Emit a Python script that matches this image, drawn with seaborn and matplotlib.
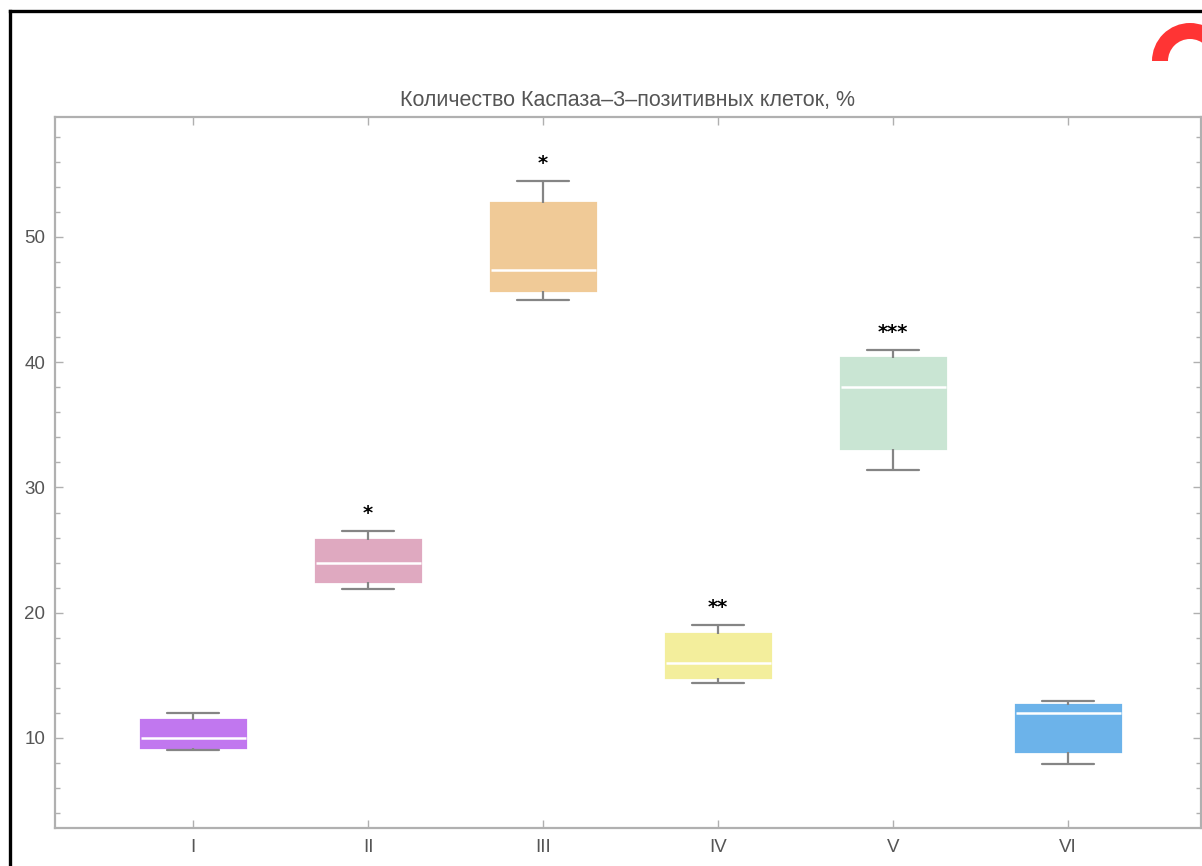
import numpy as np
import pandas as pd
import matplotlib
matplotlib.use("Agg")
import matplotlib.pyplot as plt
from matplotlib.ticker import MultipleLocator
from matplotlib.lines import Line2D
from matplotlib.patches import Wedge
import seaborn as sns

# Groups and five-number summaries (min, Q1, median, Q3, max), %
groups = ["I", "II", "III", "IV", "V", "VI"]
mins    = [9.0, 21.9, 45.0, 14.4, 31.4, 7.9]
q1s     = [9.2, 22.45, 45.7, 14.8, 33.1, 8.9]
medians = [10.0, 23.95, 47.4, 16.0, 38.0, 12.0]
q3s     = [11.4, 25.8, 52.7, 18.3, 40.3, 12.65]
maxs    = [12.0, 26.5, 54.5, 19.0, 41.0, 12.95]
signif  = ["", "*", "*", "**", "***", ""]
colors  = ["#C177EF", "#DFA9C0", "#F0CA97", "#F3EE9C", "#C9E5D3", "#6CB3EA"]

title = "Количество Каспаза–3–позитивных клеток, %"

rows = []
for g, a, b, c, d, e in zip(groups, mins, q1s, medians, q3s, maxs):
    for v in (a, b, c, d, e):
        rows.append({"group": g, "value": v})
df = pd.DataFrame(rows)

sns.set_theme(style="white")
plt.rcParams["font.family"] = ["Liberation Sans", "DejaVu Sans"]

W, H = 1202, 866
fig = plt.figure(figsize=(W / 100, H / 100), dpi=100)
ax = fig.add_axes([55 / W, 38 / H, (1201 - 55) / W, (828 - 117) / H])

grey = "#858585"
sns.boxplot(
    data=df, x="group", y="value", hue="group", order=groups, hue_order=groups,
    palette=colors, saturation=1, width=0.6, whis=(0, 100), legend=False,
    linecolor=grey, linewidth=1.6, fliersize=0,
    medianprops=dict(color="white", linewidth=1.8), ax=ax,
)
for p in ax.patches:
    p.set_edgecolor(p.get_facecolor())

# significance marks above the upper whiskers
for i, (m, s) in enumerate(zip(maxs, signif)):
    if s:
        ax.text(i, m + 0.95, s, ha="center", va="baseline", fontsize=14,
                fontweight="bold", color="black", family="DejaVu Sans")

ax.set_xlim(-0.789, 5.76)
ax.set_ylim(2.81, 59.58)
ax.set_xlabel("")
ax.set_ylabel("")
ax.set_yticks([10, 20, 30, 40, 50])
ax.yaxis.set_minor_locator(MultipleLocator(2))

spine_col = "#B0B0B0"
for sp in ax.spines.values():
    sp.set_visible(True)
    sp.set_color(spine_col)
    sp.set_linewidth(1.6)
ax.tick_params(axis="both", which="both", direction="in", color=spine_col,
               labelcolor="#555555", labelsize=13.5)
ax.tick_params(axis="x", which="major", top=True, bottom=True, length=6, width=1, pad=8)
ax.tick_params(axis="y", which="major", left=True, right=True, length=6, width=1, pad=7)
ax.tick_params(axis="y", which="minor", left=True, right=True, length=3.5, width=1)

ax.set_title(title, fontsize=15.5, color="#555555", pad=8)

# outer frame and corner badge
fig.add_artist(Line2D([10 / W, 10 / W], [0, 1 - 11 / H], transform=fig.transFigure,
                      color="black", linewidth=2.4, solid_capstyle="projecting"))
fig.add_artist(Line2D([10 / W, 1], [1 - 11 / H, 1 - 11 / H], transform=fig.transFigure,
                      color="black", linewidth=2.4, solid_capstyle="projecting"))
fig.add_artist(Wedge((1190, H - 61), 38, 0, 180, width=16, transform=None,
                     color="#FF3434", linewidth=0))

fig.savefig("out.png", dpi=100, facecolor="white")
